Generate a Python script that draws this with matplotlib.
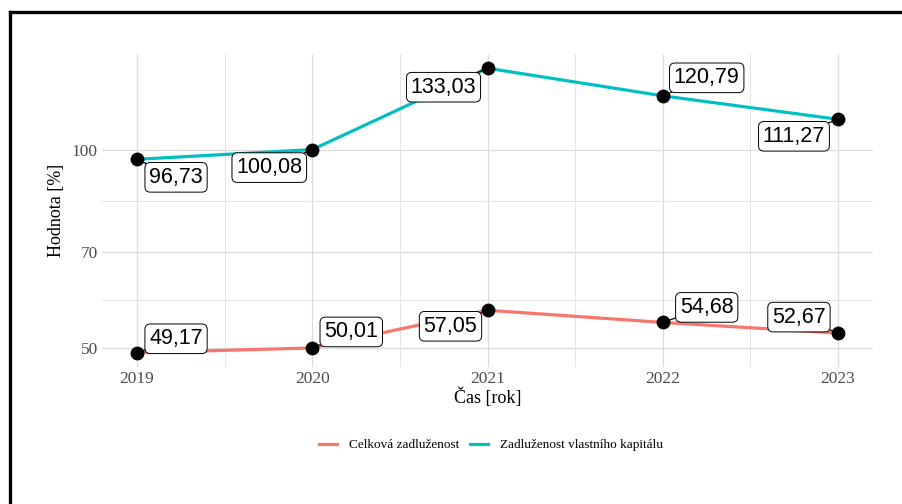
import matplotlib
matplotlib.use("Agg")
import matplotlib.pyplot as plt
import numpy as np
from matplotlib.lines import Line2D
from matplotlib.ticker import FixedLocator, FixedFormatter, NullFormatter

years = [2019, 2020, 2021, 2022, 2023]
celkova = [49.17, 50.01, 57.05, 54.68, 52.67]
vlastni = [96.73, 100.08, 133.03, 120.79, 111.27]
series_names = ["Celková zadluženost", "Zadluženost vlastního kapitálu"]
y_ticks = [50, 70, 100]

# label offsets in pixels (like ggrepel placed them)
off_celk = [(39, 14), (39, 16), (-37, -16), (44, 15), (-39, 16)]
off_vl = [(39, -18), (-43, -18), (-44, -19), (44, 18), (-44, -17)]

red = "#F8766D"
cyan = "#00BFC4"
serif = "Liberation Serif"
sans = "Liberation Sans"

fig = plt.figure(figsize=(9.03, 5.04), dpi=100)
ax = fig.add_axes([102 / 903, 1 - 367 / 504, (873 - 102) / 903, (367 - 54) / 504])

ax.plot(years, celkova, color=red, lw=2.3, label=series_names[0], zorder=3)
ax.plot(years, vlastni, color=cyan, lw=2.3, label=series_names[1], zorder=3)
ax.scatter(years, celkova, s=80, color="black", zorder=4)
ax.scatter(years, vlastni, s=80, color="black", zorder=4)

ax.set_yscale("log")
allv = np.log(celkova + vlastni)
lo, hi = allv.min(), allv.max()
pad = 0.05 * (hi - lo)
ax.set_ylim(np.exp(lo - pad), np.exp(hi + pad))
ax.set_xlim(years[0] - 0.05 * (years[-1] - years[0]), years[-1] + 0.05 * (years[-1] - years[0]))

ax.yaxis.set_major_locator(FixedLocator(y_ticks))
ax.yaxis.set_minor_locator(FixedLocator([np.sqrt(a * b) for a, b in zip(y_ticks[:-1], y_ticks[1:])]))
ax.yaxis.set_major_formatter(FixedFormatter([str(t) for t in y_ticks]))
ax.yaxis.set_minor_formatter(NullFormatter())
ax.set_xticks(years)
ax.set_xticks([y + 0.5 for y in years[:-1]], minor=True)
ax.set_xticklabels([str(y) for y in years])

ax.grid(which="major", color="#DCDCDC", lw=0.9)
ax.grid(which="minor", color="#E4E4E4", lw=0.7)
ax.set_axisbelow(True)
for s in ax.spines.values():
    s.set_visible(False)
ax.tick_params(which="both", length=0)
ax.tick_params(axis="both", labelsize=12.5, labelcolor="#4D4D4D", pad=3)
for lab in ax.get_xticklabels() + ax.get_yticklabels():
    lab.set_family(serif)

ax.set_xlabel("Čas [rok]", family=serif, fontsize=13, labelpad=0)
ax.set_ylabel("Hodnota [%]", family=serif, fontsize=13, labelpad=5)

for vals, offs in [(celkova, off_celk), (vlastni, off_vl)]:
    for x, v, (dx, dy) in zip(years, vals, offs):
        ax.annotate(f"{v:.2f}".replace(".", ","), xy=(x, v), xytext=(dx, dy),
                    textcoords="offset pixels", ha="center", va="center",
                    family=sans, fontsize=15.5, zorder=5,
                    bbox=dict(boxstyle="round,pad=0.2,rounding_size=0.25", fc="white", ec="black", lw=0.7),
                    arrowprops=dict(arrowstyle="-", color="black", lw=0.9, shrinkA=0, shrinkB=4))

handles = [Line2D([], [], color=red, lw=2.3), Line2D([], [], color=cyan, lw=2.3)]
fig.legend(handles, series_names, loc="center", bbox_to_anchor=(491 / 903, 1 - 445 / 504),
           ncol=2, frameon=False, prop={"family": serif, "size": 9.5},
           handlelength=1.4, columnspacing=0.8, handletextpad=0.9)

# outer frame (only left and top edges are inside the picture)
fx = 10.5 / 903
fy = 1 - 11.5 / 504
fig.add_artist(Line2D([fx, fx], [0, fy], transform=fig.transFigure, color="black", lw=2.4))
fig.add_artist(Line2D([fx, 1], [fy, fy], transform=fig.transFigure, color="black", lw=2.4))

fig.savefig("out.png", dpi=100, facecolor="white")
